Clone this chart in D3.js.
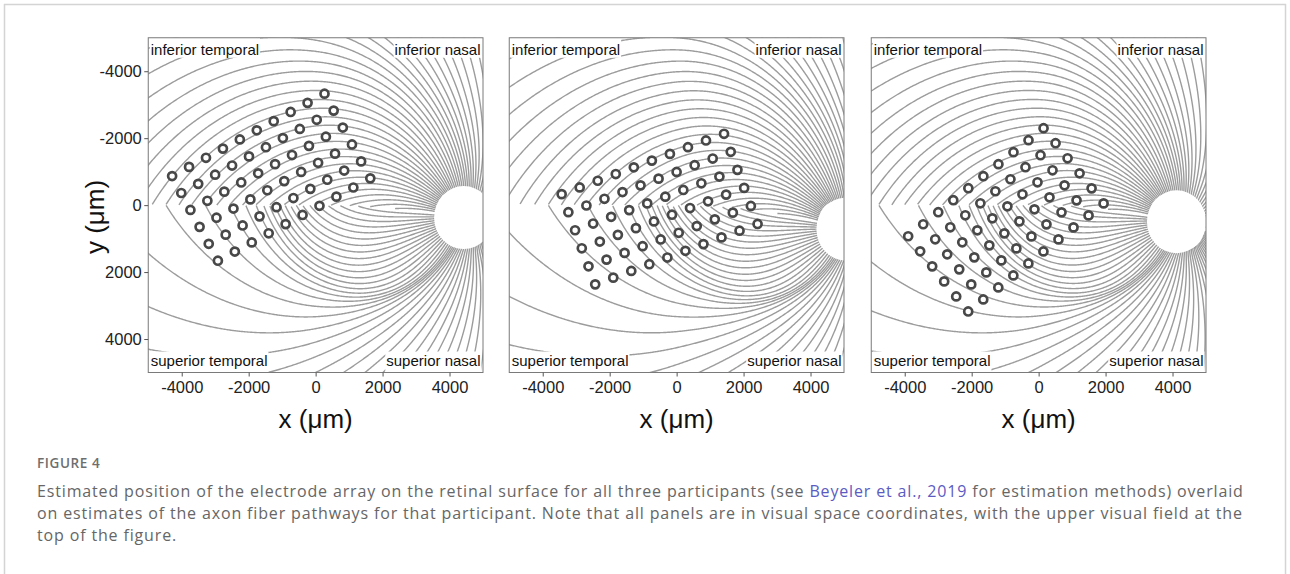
<!DOCTYPE html>
<html>
<head>
<meta charset="utf-8">
<script src="https://cdn.jsdelivr.net/npm/d3@7"></script>
<style>
    body { margin: 0; background: #fff; }
    svg { display: block; font-family: "Liberation Sans", Arial, sans-serif; }
</style>
</head>
<body>
<svg id="fig" width="1290" height="574"></svg>
<script>
(function(){
    'use strict';

    // ---- values ----
    var participants = ['P1', 'P2', 'P3'];
    // optic disc location per participant (deg, retina coords, RE)
    var odLocDeg = [[16.3, 1.37], [18.64, 2.64], [15.19, 1.83]];
    // electrode array centre (um) and rotation (deg)
    var arrayCenterX = [-1327, -508, -978];
    var arrayCenterY = [-834, 118, 439];
    var arrayRot = [-28.4, -20.4, -38.6];
    // Argus II layout: 6 rows x 10 columns, 575 um pitch
    var argusRows = ['A', 'B', 'C', 'D', 'E', 'F'];
    var argusCols = [1, 2, 3, 4, 5, 6, 7, 8, 9, 10];
    var electrodePitch = 575;
    var electrodeRadius = 120;

    var xTicks = [-4000, -2000, 0, 2000, 4000];
    var yTicks = [-4000, -2000, 0, 2000, 4000];
    var axisDomain = [-5000, 5000];

    // Jansonius (2009) fiber model settings
    var nBundles = 100;
    var axonsRange = [-180, 180];
    var segRange = [3, 50];
    var nSeg = 500;
    var betaSup = -1.9, betaInf = 0.5;
    var discSize = [1770, 1880];   // um, width x height

    var quadrantLabels = [
        {text: 'inferior temporal', pos: 'tl'},
        {text: 'inferior nasal', pos: 'tr'},
        {text: 'superior temporal', pos: 'bl'},
        {text: 'superior nasal', pos: 'br'}
    ];

    var captionTitle = 'FIGURE 4';
    var captionLines = [
        [['Estimated position of the electrode array on the retinal surface for all three participants (see ', false],
         ['Beyeler et al., 2019', true],
         [' for estimation methods) overlaid', false]],
        [['on estimates of the axon fiber pathways for that participant. Note that all panels are in visual space coordinates, with the upper visual field at the', false]],
        [['top of the figure.', false]]
    ];

    // ---- layout ----
    var panelLeft = [148.25, 509.25, 871.25],
        panelTop = 37.75,
        panelSize = 334.75;

    var svg = d3.select('#fig');

    svg.append('rect')
        .attr('x', 4.5).attr('y', 4.5)
        .attr('width', 1281).attr('height', 620)
        .attr('fill', 'none')
        .attr('stroke', '#d4d4d4')
        .attr('stroke-width', 1.5);

    function dva2ret(x, y) {
        var r = Math.sqrt(x * x + y * y);
        if (r === 0) return [0, 0];
        var rmm = 0.268 * r + 3.427e-4 * r * r - 8.3309e-6 * r * r * r;
        var k = 1000 * rmm / r;
        return [x * k, y * k];
    }

    function growFiber(phi0, od) {
        var sup = phi0 > 0, b, c;
        if (sup) {
            b = Math.exp(betaSup + 3.9 * Math.tanh(-(phi0 - 121) / 14));
            c = 1.9 + 1.4 * Math.tanh((phi0 - 121) / 14);
        } else {
            b = -Math.exp(betaInf + 1.5 * Math.tanh(-(-phi0 - 90) / 25));
            c = 1.0 + 0.5 * Math.tanh((-phi0 - 90) / 25);
        }
        var pts = [];
        for (var i = 0; i < nSeg; i++) {
            var rho = segRange[0] + (segRange[1] - segRange[0]) * i / (nSeg - 1);
            var phi = (phi0 + b * Math.pow(rho - segRange[0], c)) * Math.PI / 180;
            var xp = rho * Math.cos(phi), yp = rho * Math.sin(phi);
            if (sup ? yp < 0 : yp > 0) break;
            var xm = xp + od[0], ym = yp;
            if (xp > -od[0]) ym = yp + od[1] * Math.pow(xm / od[0], 2);
            pts.push(dva2ret(xm, ym));
        }
        return pts;
    }

    var phis = d3.range(nBundles).map(function(i) {
        return axonsRange[0] + (axonsRange[1] - axonsRange[0]) * i / (nBundles - 1);
    });

    participants.forEach(function(p, k) {
        var x0 = panelLeft[k];
        var x = d3.scaleLinear().domain(axisDomain).range([x0, x0 + panelSize]);
        var y = d3.scaleLinear().domain(axisDomain).range([panelTop, panelTop + panelSize]);

        var clipId = 'clip' + k;
        svg.append('clipPath').attr('id', clipId)
            .append('rect')
            .attr('x', x0).attr('y', panelTop)
            .attr('width', panelSize).attr('height', panelSize);

        var g = svg.append('g').attr('clip-path', 'url(#' + clipId + ')');

        var line = d3.line()
            .x(function(d) { return x(d[0]); })
            .y(function(d) { return y(d[1]); });

        var bundles = phis.map(function(phi0) { return growFiber(phi0, odLocDeg[k]); })
            .filter(function(b) { return b.length > 1; });

        g.selectAll('path.fiber').data(bundles).enter()
            .append('path')
            .attr('class', 'fiber')
            .attr('d', line)
            .attr('fill', 'none')
            .attr('stroke', '#9c9c9c')
            .attr('stroke-width', 1.4);

        var od = dva2ret(odLocDeg[k][0], odLocDeg[k][1]);
        g.append('ellipse')
            .attr('cx', x(od[0])).attr('cy', y(od[1]))
            .attr('rx', x(discSize[0] / 2) - x(0))
            .attr('ry', y(discSize[1] / 2) - y(0))
            .attr('fill', '#fff');

        // electrodes
        var th = arrayRot[k] * Math.PI / 180;
        var elecs = [];
        argusRows.forEach(function(r, ri) {
            argusCols.forEach(function(c, ci) {
                var u = (ci - 4.5) * electrodePitch, v = (ri - 2.5) * electrodePitch;
                elecs.push({
                    name: r + c,
                    x: arrayCenterX[k] + u * Math.cos(th) - v * Math.sin(th),
                    y: arrayCenterY[k] + u * Math.sin(th) + v * Math.cos(th)
                });
            });
        });
        g.selectAll('circle.el').data(elecs).enter()
            .append('circle')
            .attr('class', 'el')
            .attr('cx', function(d) { return x(d.x); })
            .attr('cy', function(d) { return y(d.y); })
            .attr('r', x(electrodeRadius) - x(0))
            .attr('fill', '#fff')
            .attr('stroke', '#484848')
            .attr('stroke-width', 2.7);

        // quadrant labels
        quadrantLabels.forEach(function(q) {
            var right = q.pos[1] === 'r', bottom = q.pos[0] === 'b';
            var lg = svg.append('g');
            var t = lg.append('text')
                .attr('x', right ? x0 + panelSize - 2.5 : x0 + 2.5)
                .attr('y', bottom ? panelTop + panelSize - 7 : panelTop + 17)
                .attr('text-anchor', right ? 'end' : 'start')
                .attr('font-size', '15px')
                .attr('fill', '#111')
                .text(q.text);
            var bb = t.node().getBBox();
            lg.insert('rect', 'text')
                .attr('x', bb.x - 1).attr('y', bottom ? bb.y : panelTop)
                .attr('width', bb.width + 2)
                .attr('height', bottom ? panelTop + panelSize - bb.y : bb.y + bb.height - panelTop)
                .attr('fill', '#fff');
        });

        // frame
        svg.append('rect')
            .attr('x', x0).attr('y', panelTop)
            .attr('width', panelSize).attr('height', panelSize)
            .attr('fill', 'none')
            .attr('stroke', '#7a7a7a')
            .attr('stroke-width', 1);

        var ax = svg.append('g')
            .attr('transform', 'translate(0,' + (panelTop + panelSize) + ')')
            .call(d3.axisBottom(x).tickValues(xTicks).tickSize(4).tickPadding(5)
                .tickFormat(function(d) { return String(d); }));
        ax.select('.domain').remove();
        ax.selectAll('.tick line').attr('stroke', '#555');
        ax.selectAll('.tick text').attr('font-size', '16.5px').attr('fill', '#222')
            .attr('font-family', '"Liberation Sans", Arial, sans-serif');

        svg.append('text')
            .attr('x', x0 + panelSize / 2).attr('y', 428)
            .attr('text-anchor', 'middle')
            .attr('font-size', '26px')
            .attr('fill', '#111')
            .text('x (\u03bcm)');

        if (k === 0) {
            var ay = svg.append('g')
                .attr('transform', 'translate(' + x0 + ',0)')
                .call(d3.axisLeft(y).tickValues(yTicks).tickSize(4).tickPadding(2.5)
                    .tickFormat(function(d) { return String(d); }));
            ay.select('.domain').remove();
            ay.selectAll('.tick line').attr('stroke', '#555');
            ay.selectAll('.tick text').attr('font-size', '16.5px').attr('fill', '#222')
                .attr('font-family', '"Liberation Sans", Arial, sans-serif');

            svg.append('text')
                .attr('transform', 'translate(104,217) rotate(-90)')
                .attr('text-anchor', 'middle')
                .attr('font-size', '26px')
                .attr('fill', '#111')
                .text('y (\u03bcm)');
        }
    });

    // caption
    var cap = svg.append('g').attr('font-family', '"Open Sans", "Noto Sans", sans-serif');
    cap.append('text')
        .attr('x', 37).attr('y', 468)
        .attr('font-size', '13.5px')
        .attr('font-weight', 600)
        .attr('letter-spacing', '0.6px')
        .attr('fill', '#6e6e6e')
        .text(captionTitle);

    captionLines.forEach(function(parts, i) {
        var t = cap.append('text')
            .attr('x', 37).attr('y', 497 + i * 22)
            .attr('font-size', '16px')
            .attr('letter-spacing', '0.85px')
            .attr('fill', '#666');
        parts.forEach(function(pt) {
            t.append('tspan')
                .attr('fill', pt[1] ? '#5b5bc2' : null)
                .text(pt[0]);
        });
    });
})()
</script>
</body>
</html>
